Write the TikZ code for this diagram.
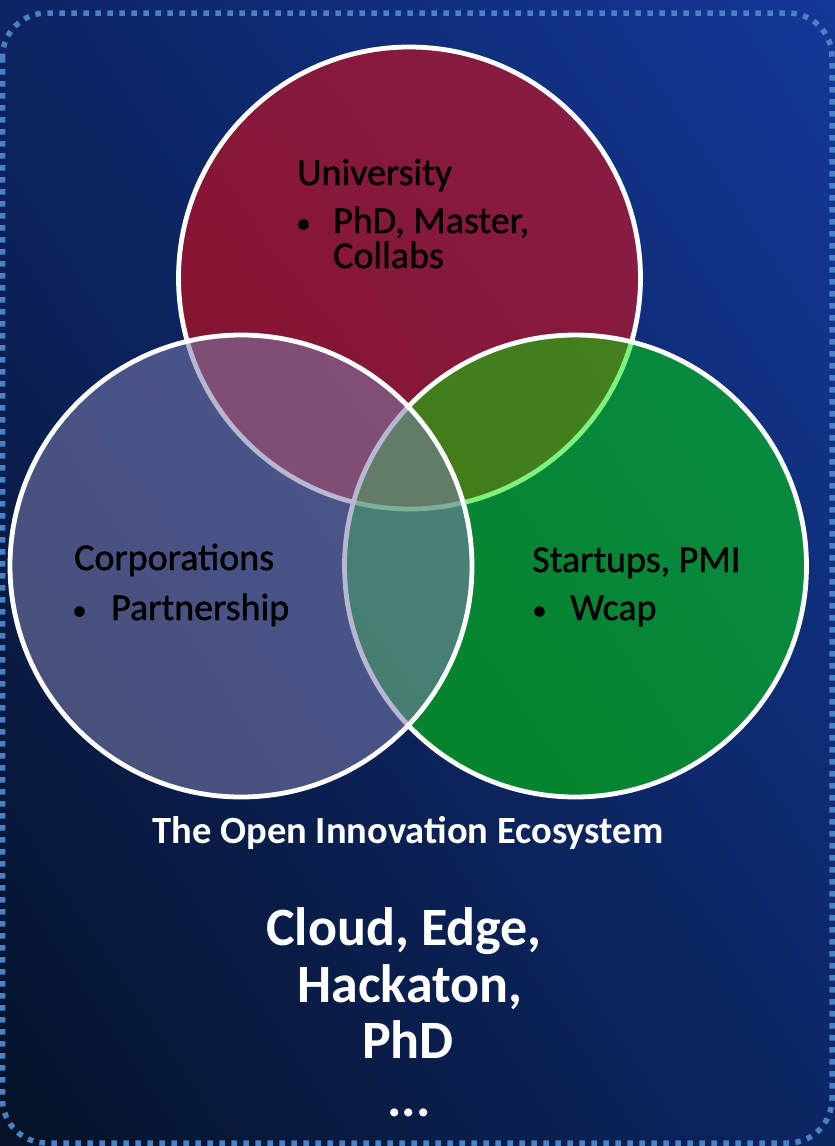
\documentclass[tikz,border=0pt]{standalone}
\usepackage{fontspec}
\setmainfont{Carlito}
\newfontfamily\mediumfont[FakeBold=1.2]{Carlito}
\usepackage{tikz}
\usetikzlibrary{shadings}

\definecolor{bgtopleft}{RGB}{13,36,100}
\definecolor{bgtopright}{RGB}{20,56,152}
\definecolor{bgbotleft}{RGB}{5,18,40}
\definecolor{bgbotright}{RGB}{12,38,100}
\definecolor{dotblue}{RGB}{74,128,196}
\definecolor{unired}{RGB}{254,8,4}
\definecolor{startgreen}{RGB}{0,228,0}
\definecolor{corplav}{RGB}{125,124,172}

\begin{document}
\begin{tikzpicture}[x=1pt,y=-1pt,
	venn/.style={circle,draw=white,line width=4.8pt,minimum size=462pt,inner sep=0pt},
	item/.style={anchor=base west,inner sep=0pt,text=black,font=\mediumfont\fontsize{38}{44}\selectfont},
	dot/.style={anchor=base west,inner sep=0pt,text=black,font=\fontsize{30}{34}\selectfont},
	caption/.style={anchor=base,inner sep=0pt,text=white,font=\bfseries\fontsize{38.5}{44}\selectfont},
	bigline/.style={anchor=base,inner sep=0pt,text=white,font=\bfseries\fontsize{54}{60}\selectfont}]
	\useasboundingbox (0,0) rectangle (835,1146);
	\shade[upper left=bgtopleft,upper right=bgtopright,lower left=bgbotleft,lower right=bgbotright] (0,0) rectangle (835,1146);
	\draw[dotblue,line width=5.5pt,dash pattern=on 5.5pt off 6.5pt,rounded corners=44pt] (2.5,13) rectangle (832,1143);

	% the three circles
	\node[venn,fill=unired,fill opacity=0.5] (uni) at (409.5,278) {};
	\node[venn,fill=startgreen,fill opacity=0.5] (startups) at (575.5,566) {};
	\node[venn,fill=corplav,fill opacity=0.55] (corp) at (241,566) {};

	% texts in the circles
	\node[item] (unititle) at (297,185) {University};
	\node[dot] (unidot) at (296,233) {•};
	\node[item] (uniphd) at (333,233) {PhD, Master,};
	\node[item] (unicollabs) at (333,268) {Collabs};

	\node[item] (corptitle) at (74,570) {Corporations};
	\node[dot] (corpdot) at (72,620) {•};
	\node[item] (corppartner) at (111,620) {Partnership};

	\node[item] (starttitle) at (532,572) {Startups, PMI};
	\node[dot] (startdot) at (532,620) {•};
	\node[item] (startwcap) at (570,620) {Wcap};

	% texts below
	\node[caption] (ecosystem) at (408,843) {The Open Innovation Ecosystem};
	\node[bigline] (cloudedge) at (404,945) {Cloud, Edge,};
	\node[bigline] (hackaton) at (410,1002) {Hackaton,};
	\node[bigline] (phd) at (408,1058) {PhD};
	\node[bigline] (etc) at (409,1116) {...};
\end{tikzpicture}
\end{document}
